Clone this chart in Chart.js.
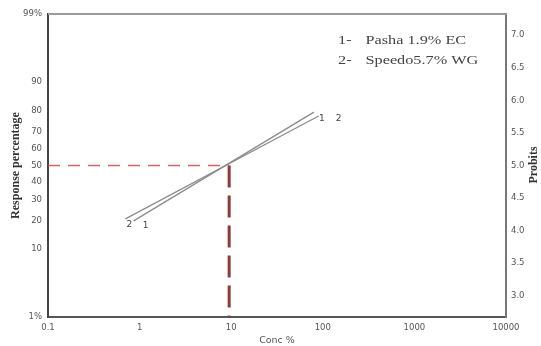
<!DOCTYPE html>
<html>
<head>
<meta charset="utf-8">
<script src="https://cdn.jsdelivr.net/npm/chart.js@4.4.1/dist/chart.umd.min.js"></script>
<style>
  html, body { margin: 0; padding: 0; background: #fff; }
</style>
</head>
<body>
<canvas id="grafico" width="541" height="346"></canvas>
<script>
// eixo x (log)
const xTicks = [0.1, 1, 10, 100, 1000, 10000];
const xTickLabels = ["0.1", "1", "10", "100", "1000", "10000"];

// eixo esquerdo: percentagem -> probit
const pctLabels = ["1%", "10", "20", "30", "40", "50", "60", "70", "80", "90", "99%"];
const pctProbits = [2.674, 3.718, 4.158, 4.476, 4.747, 5.0, 5.253, 5.524, 5.842, 6.282, 7.326];

// eixo direito: probits
const probitTicks = [3.0, 3.5, 4.0, 4.5, 5.0, 5.5, 6.0, 6.5, 7.0];

// linhas
const seriesNames = ["Pasha 1.9% EC", "Speedo5.7% WG"];
const conc1 = [0.86, 80];
const probit1 = [4.15, 5.82];
const conc2 = [0.70, 90];
const probit2 = [4.18, 5.76];

// LC50
const lc50 = 9.5;
const lc50Probit = 5.0;

const yMin = pctProbits[0];
const yMax = pctProbits[pctProbits.length - 1];

function pontos(xs, ys) {
  return xs.map((x, i) => ({ x: x, y: ys[i] }));
}

const extras = {
  id: "extras",
  afterDraw(chart) {
    const ctx = chart.ctx;
    const a = chart.chartArea;
    const x = chart.scales.x;
    const y = chart.scales.y;

    // borda de cima
    ctx.save();
    ctx.strokeStyle = "#9a9a9a";
    ctx.lineWidth = 2;
    ctx.beginPath();
    ctx.moveTo(a.left, a.top);
    ctx.lineTo(a.right + 1, a.top);
    ctx.stroke();

    // titulo direito
    ctx.fillStyle = "#333";
    ctx.font = "bold 12px 'Liberation Serif'";
    ctx.textAlign = "center";
    ctx.textBaseline = "middle";
    ctx.translate(534, 165);
    ctx.rotate(-Math.PI / 2);
    ctx.fillText("Probits", 0, 0);
    ctx.restore();

    // legenda
    ctx.save();
    ctx.fillStyle = "#444";
    ctx.font = "13px 'Liberation Serif'";
    ctx.textBaseline = "middle";
    seriesNames.forEach((nome, i) => {
      let yy = 41 + i * 20;
      ctx.save();
      ctx.translate(338, yy);
      ctx.scale(1.25, 1);
      ctx.fillText((i + 1) + "-", 0, 0);
      ctx.fillText(nome, 22, 0);
      ctx.restore();
    });
    ctx.restore();

    // numeros das linhas
    ctx.save();
    ctx.fillStyle = "#444";
    ctx.font = "9px 'DejaVu Sans'";
    ctx.textAlign = "center";
    ctx.textBaseline = "middle";
    let s1 = { x: x.getPixelForValue(conc1[0]), y: y.getPixelForValue(probit1[0]) };
    let e1 = { x: x.getPixelForValue(conc1[1]), y: y.getPixelForValue(probit1[1]) };
    let s2 = { x: x.getPixelForValue(conc2[0]), y: y.getPixelForValue(probit2[0]) };
    let e2 = { x: x.getPixelForValue(conc2[1]), y: y.getPixelForValue(probit2[1]) };
    ctx.fillText("2", s2.x + 4, s2.y + 6);
    ctx.fillText("1", s1.x + 12, s1.y + 5);
    ctx.fillText("1", e1.x + 8, e1.y + 7);
    ctx.fillText("2", e2.x + 20, e2.y + 3);
    ctx.restore();
  }
};

const ctx = document.getElementById("grafico").getContext("2d");

const chart = new Chart(ctx, {
  type: "scatter",
  data: {
    datasets: [
      {
        data: pontos([xTicks[0], lc50], [lc50Probit, lc50Probit]),
        showLine: true,
        borderColor: "rgba(205,70,70,0.85)",
        borderWidth: 1.6,
        borderDash: [12, 8],
        pointRadius: 0
      },
      {
        data: pontos([lc50, lc50], [lc50Probit, yMin]),
        showLine: true,
        borderColor: "#8e3a3a",
        borderWidth: 3,
        borderDash: [22, 8],
        pointRadius: 0
      },
      {
        label: seriesNames[0],
        data: pontos(conc1, probit1),
        showLine: true,
        borderColor: "#8c8c8c",
        borderWidth: 1.3,
        pointRadius: 0
      },
      {
        label: seriesNames[1],
        data: pontos(conc2, probit2),
        showLine: true,
        borderColor: "#8c8c8c",
        borderWidth: 1.3,
        pointRadius: 0
      }
    ]
  },
  plugins: [extras],
  options: {
    responsive: false,
    animation: false,
    layout: { padding: { top: 14, left: 0, right: 0, bottom: 0 } },
    plugins: {
      legend: { display: false },
      tooltip: { enabled: false }
    },
    scales: {
      x: {
        type: "logarithmic",
        min: 0.1,
        max: 10000,
        afterBuildTicks: scale => { scale.ticks = xTicks.map(v => ({ value: v })); },
        afterFit: scale => { scale.height = 29; },
        grid: { display: false, drawTicks: false },
        border: { color: "#555", width: 2 },
        ticks: {
          padding: 6,
          color: "#555",
          font: { family: "'DejaVu Sans'", size: 8.5 },
          maxRotation: 0,
          autoSkip: false,
          callback: (value) => {
            let i = xTicks.indexOf(value);
            return i >= 0 ? xTickLabels[i] : "";
          }
        },
        title: {
          display: true,
          text: "Conc %",
          color: "#555",
          font: { family: "'DejaVu Sans'", size: 9.5 },
          padding: { top: 0, bottom: 0 }
        }
      },
      y: {
        type: "linear",
        position: "left",
        min: yMin,
        max: yMax,
        afterBuildTicks: scale => { scale.ticks = pctProbits.map(v => ({ value: v })); },
        afterFit: scale => { scale.width = 48; },
        grid: { display: false, drawTicks: false },
        border: { color: "#444", width: 2 },
        ticks: {
          padding: 6,
          color: "#555",
          font: { family: "'DejaVu Sans'", size: 8.5 },
          autoSkip: false,
          callback: (value, i) => pctLabels[i]
        },
        title: {
          display: true,
          text: "Response percentage",
          color: "#333",
          font: { family: "'Liberation Serif'", size: 12, weight: "bold" },
          padding: { top: 9, bottom: 0 }
        }
      },
      y2: {
        type: "linear",
        position: "right",
        min: yMin,
        max: yMax,
        afterBuildTicks: scale => { scale.ticks = probitTicks.map(v => ({ value: v })); },
        afterFit: scale => { scale.width = 35; },
        grid: { display: false, drawTicks: false },
        border: { color: "#777", width: 2 },
        ticks: {
          padding: 5,
          color: "#555",
          font: { family: "'DejaVu Sans'", size: 8.5 },
          autoSkip: false,
          callback: (value) => value.toFixed(1)
        }
      }
    }
  }
});
</script>
</body>
</html>
